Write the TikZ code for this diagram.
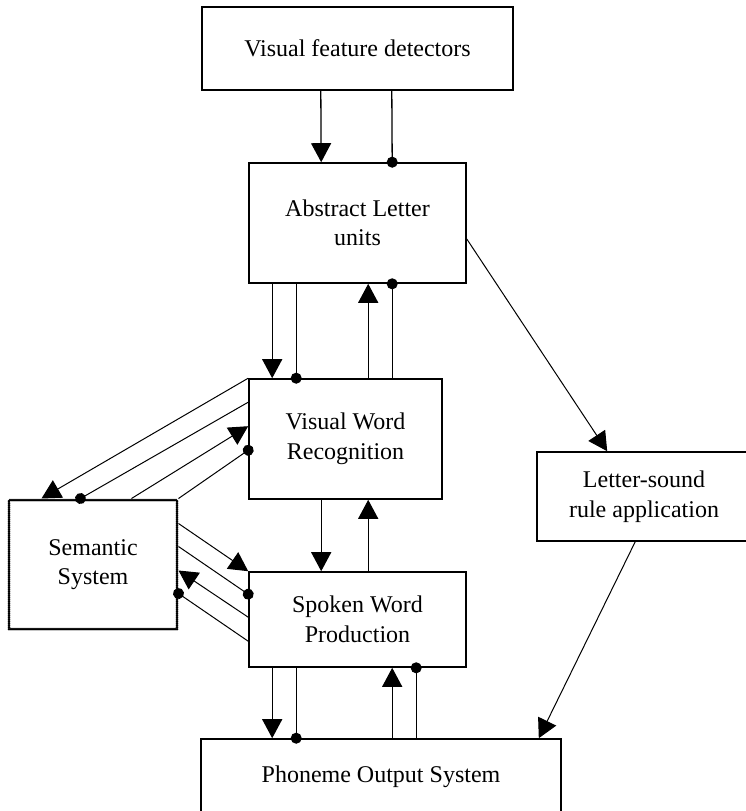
\documentclass[tikz,border=0pt]{standalone}
\usepackage{fontspec}
\setmainfont{Liberation Serif}
\usetikzlibrary{arrows.meta}

\begin{document}
\begin{tikzpicture}[x=1pt,y=-1pt]
\tikzstyle{unit}=[rectangle,draw=black,line width=1.6pt,inner sep=0pt,align=center,font=\fontsize{24}{29.5}\selectfont]
\tikzstyle{exc}=[line width=1.3pt,-{Triangle[length=19pt,width=20pt]}]
\tikzstyle{inh}=[line width=1.3pt,-{Circle[length=11pt]},shorten >=-5.5pt]
\tikzstyle{thin}=[line width=1pt]
\useasboundingbox (0,0) rectangle (746,811);
% units
\node[unit,line width=2.4pt,minimum width=311pt,minimum height=83pt] (vfd) at (357.5,48.5) {Visual feature detectors};
\node[unit,minimum width=217pt,minimum height=120pt] (abs) at (357.5,223) {Abstract Letter\\units};
\node[unit,minimum width=193pt,minimum height=120pt] (vwr) at (345.5,439) {Visual Word\\Recognition};
\node[unit,minimum width=214pt,minimum height=89pt] (lsr) at (644,496.5) {Letter-sound\\rule application};
\node[unit,line width=3pt,dash pattern=on 0pt off 2pt,line cap=round,minimum width=168pt,minimum height=129pt] (sem) at (93,564.5) {Semantic\\System};
\node[unit,minimum width=217pt,minimum height=95pt] (swp) at (357.5,619.5) {Spoken Word\\Production};
\node[unit,minimum width=360pt,minimum height=76pt] (pho) at (381,777) {Phoneme Output System};
% vertical links
\draw[exc] ([xshift=120pt]vfd.south west) -- ([xshift=73pt]abs.north west);
\draw[inh] ([xshift=191pt]vfd.south west) -- ([xshift=144pt]abs.north west);
\draw[exc] ([xshift=24pt]abs.south west) -- ([xshift=24pt]vwr.north west);
\draw[inh] ([xshift=48pt]abs.south west) -- ([xshift=48pt]vwr.north west);
\draw[exc] ([xshift=120pt]vwr.north west) -- ([xshift=120pt]abs.south west);
\draw[inh] ([xshift=144pt]vwr.north west) -- ([xshift=144pt]abs.south west);
\draw[exc] ([xshift=73pt]vwr.south west) -- ([xshift=73pt]swp.north west);
\draw[exc] ([xshift=120pt]swp.north west) -- ([xshift=120pt]vwr.south west);
\draw[exc] ([xshift=24pt]swp.south west) -- ([xshift=72pt]pho.north west);
\draw[inh] ([xshift=48pt]swp.south west) -- ([xshift=96pt]pho.north west);
\draw[exc] ([xshift=192pt]pho.north west) -- ([xshift=144pt]swp.south west);
\draw[inh] ([xshift=216pt]pho.north west) -- ([xshift=168pt]swp.south west);
% letter-sound route
\draw[exc,thin] ([yshift=-16pt]abs.east) -- ([xshift=71pt]lsr.north west);
\draw[exc,thin] ([xshift=99pt]lsr.south west) -- ([xshift=-23pt]pho.north east);
% semantic links
\draw[exc,thin] (vwr.north west) -- ([xshift=34pt]sem.north west);
\draw[inh,thin] ([yshift=-24pt]vwr.north west) -- ([xshift=73pt]sem.north west);
\draw[exc,thin] ([xshift=124pt]sem.north west) -- ([yshift=-48pt]vwr.north west);
\draw[inh,thin] (sem.north east) -- ([yshift=-72pt]vwr.north west);
\draw[exc,thin] ([yshift=-25pt]sem.north east) -- (swp.north west);
\draw[inh,thin] ([yshift=-48pt]sem.north east) -- ([yshift=-23pt]swp.north west);
\draw[exc,thin] ([yshift=-46pt]swp.north west) -- ([yshift=-72pt]sem.north east);
\draw[inh,thin] ([yshift=-70pt]swp.north west) -- ([yshift=-95pt]sem.north east);
\end{tikzpicture}
\end{document}
